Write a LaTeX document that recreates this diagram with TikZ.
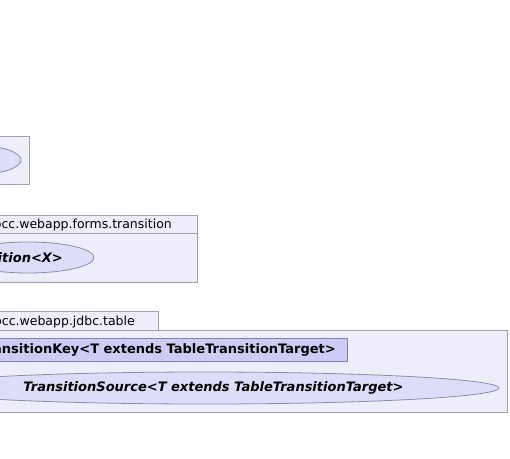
\documentclass[tikz,border=0pt]{standalone}
\usepackage{fontspec}
\setmainfont{DejaVu Sans}
\usetikzlibrary{shapes.geometric}
\definecolor{pkgfill}{RGB}{238,238,251}
\definecolor{pkgline}{RGB}{160,160,178}
\definecolor{ifacefill}{RGB}{221,221,250}
\definecolor{ifaceline}{RGB}{140,140,175}
\definecolor{classfill}{RGB}{204,204,245}
\definecolor{classline}{RGB}{128,128,180}
\tikzset{
  pkgbox/.style={draw=pkgline, fill=pkgfill, line width=1pt},
  pkglabel/.style={font=\fontsize{12.5}{15}\selectfont, inner sep=0pt, text=black},
  iface/.style={ellipse, draw=ifaceline, fill=ifacefill, line width=0.8pt, inner sep=0pt},
  ifacelabel/.style={font=\fontsize{13}{15}\selectfont\bfseries\itshape, inner sep=0pt, text=black},
  classbox/.style={draw=classline, fill=classfill, line width=0.8pt},
  classlabel/.style={font=\fontsize{13}{15}\selectfont\bfseries, inner sep=0pt, text=black},
}
\begin{document}
\begin{tikzpicture}[x=1pt, y=-1pt]
\useasboundingbox (0,0) rectangle (510,458);
\begin{scope}
\clip (0,0) rectangle (510,458);

% package at the top
\draw[pkgbox] (-80,136) rectangle (29,184);
\node[iface, minimum width=82pt, minimum height=28pt] (topif) at (-20,160) {};
\node[ifacelabel, anchor=east] (toplbl) at (1.5,160.5) {<X>};

% package ...webapp.forms.transition
\draw[pkgbox] (-80,215) rectangle (197,233);
\draw[pkgbox] (-80,233) rectangle (197,282);
\node[pkglabel, anchor=base east] (formspkg) at (172,228.5) {pcc.webapp.forms.transition};
\node[iface, minimum width=132pt, minimum height=31pt] (formsif) at (28,257.5) {};
\node[ifacelabel, anchor=east] (formslbl) at (63,258) {Transition<X>};

% package ...webapp.jdbc.table
\draw[pkgbox] (-80,311) rectangle (158,330);
\draw[pkgbox] (-80,330) rectangle (507,412);
\node[pkglabel, anchor=base east] (jdbcpkg) at (135,325) {pcc.webapp.jdbc.table};
\draw[classbox] (-40,338) rectangle (347,361);
\node[classlabel, anchor=east] (keylbl) at (336,349.5) {TransitionKey<T extends TableTransitionTarget>};
\node[iface, minimum width=588pt, minimum height=32pt] (srcif) at (205,388) {};
\node[ifacelabel] (srclbl) at (213.5,388) {TransitionSource<T extends TableTransitionTarget>};
\end{scope}
\end{tikzpicture}
\end{document}
